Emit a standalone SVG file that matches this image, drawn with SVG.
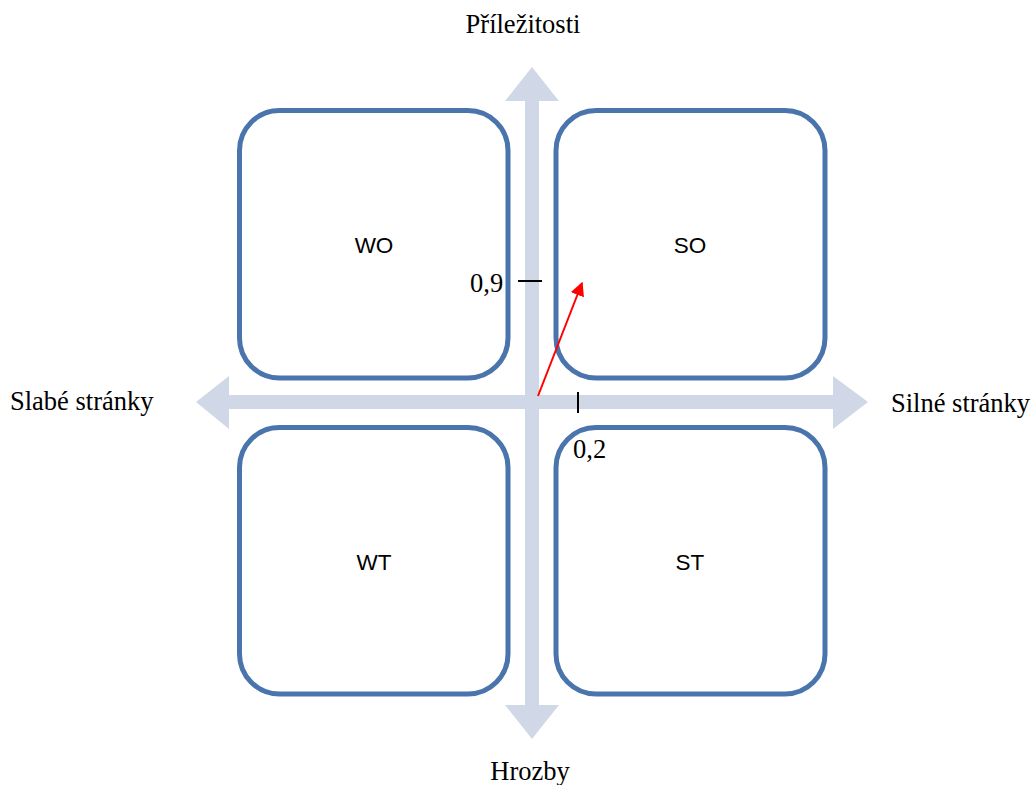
<svg xmlns="http://www.w3.org/2000/svg" width="1036" height="785" viewBox="0 0 1036 785">
<defs>
<style>
.box{fill:#ffffff;stroke:#4A74AC;stroke-width:5}
.axis{fill:#D0D8E7}
.q{font-family:"Liberation Sans",Arial,sans-serif;font-size:22.5px;fill:#000;text-anchor:middle}
.lbl{font-family:"Liberation Serif","Times New Roman",serif;font-size:26.5px;fill:#000}
.tick{stroke:#000;stroke-width:2}
</style>
<marker id="redhead" viewBox="0 0 10 10" refX="9" refY="5" markerWidth="7" markerHeight="7" markerUnits="strokeWidth" orient="auto">
<path d="M0,0 L10,5 L0,10 z" fill="#FF0000"/>
</marker>
</defs>
<rect width="1036" height="785" fill="#ffffff"/>
<g id="axes">
<polygon class="axis" points="532,67 559,101 539,101 539,705 559,705 532,739 505,705 525,705 525,101 505,101"/>
<polygon class="axis" points="196,402 229,376 229,395 833,395 833,376 868,402 833,429 833,409 229,409 229,429"/>
</g>
<g id="WO"><rect class="box" x="239.5" y="110.5" width="268.5" height="267.5" rx="40" ry="40"/><text class="q" x="374" y="253">WO</text></g>
<g id="SO"><rect class="box" x="556" y="110.5" width="269" height="267.5" rx="40" ry="40"/><text class="q" x="690" y="253">SO</text></g>
<g id="WT"><rect class="box" x="239.5" y="427.5" width="268.5" height="266.5" rx="40" ry="40"/><text class="q" x="374" y="570">WT</text></g>
<g id="ST"><rect class="box" x="556" y="427.5" width="269" height="266.5" rx="40" ry="40"/><text class="q" x="690" y="570">ST</text></g>
<g id="labels">
<text class="lbl" x="523" y="33" text-anchor="middle">Příležitosti</text>
<text class="lbl" x="530" y="780" text-anchor="middle">Hrozby</text>
<text class="lbl" x="10" y="410">Slabé stránky</text>
<text class="lbl" x="891" y="412">Silné stránky</text>
<text class="lbl" x="470" y="292">0,9</text>
<text class="lbl" x="573" y="458">0,2</text>
</g>
<g id="connectors">
<line class="tick" x1="518" y1="281" x2="542" y2="281"/>
<line class="tick" x1="578" y1="392" x2="578" y2="413"/>
<line x1="538" y1="396" x2="582" y2="283" stroke="#FF0000" stroke-width="2" marker-end="url(#redhead)"/>
</g>
</svg>
